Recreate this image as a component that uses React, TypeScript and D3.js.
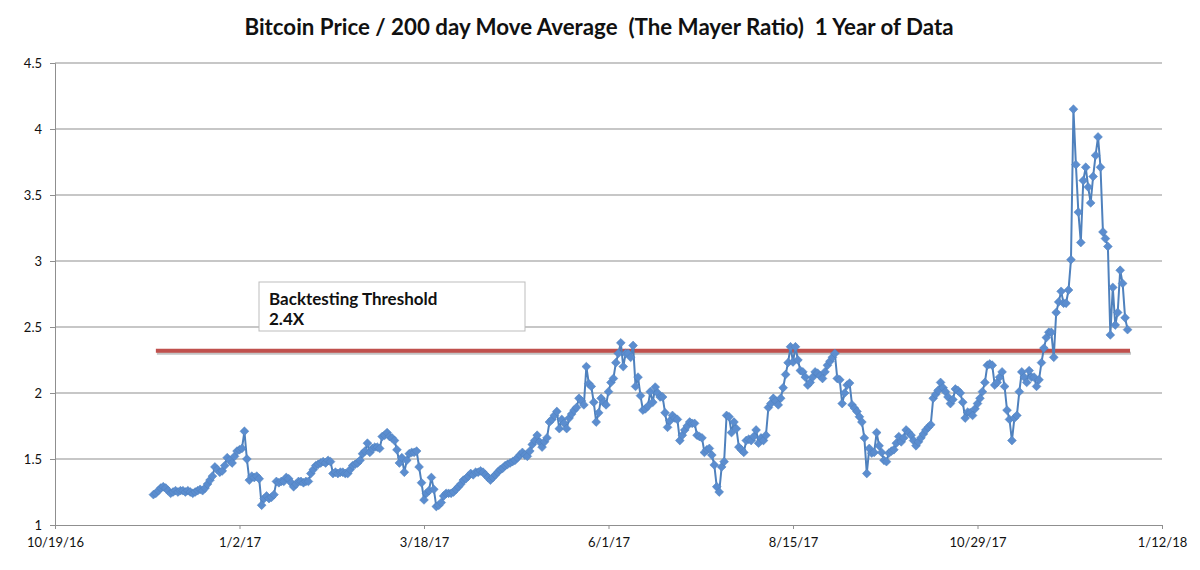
import * as d3 from "d3";
import React, { useEffect, useRef } from "react";

// Mayer ratio, one value per day starting 11/28/16
const startDate = "2016-11-28";
const ratioValues: number[] = [
  // Nov/Dec 2016
  1.23, 1.24, 1.26, 1.28, 1.29, 1.28, 1.26, 1.24, 1.25, 1.26,
  1.25, 1.26, 1.26, 1.25, 1.26, 1.25, 1.24, 1.25, 1.26, 1.27,
  1.26, 1.28, 1.31, 1.34, 1.37, 1.44, 1.42, 1.40, 1.41, 1.45,
  1.51, 1.49, 1.47, 1.52, 1.56, 1.57, 1.58, 1.71, 1.50, 1.34,
  // Jan/Feb 2017
  1.37, 1.36, 1.37, 1.35, 1.15, 1.20, 1.22, 1.20, 1.21, 1.23,
  1.33, 1.32, 1.33, 1.33, 1.36, 1.35, 1.32, 1.29, 1.31, 1.33,
  1.33, 1.32, 1.33, 1.33, 1.39, 1.42, 1.45, 1.46, 1.47, 1.48,
  1.47, 1.49, 1.48, 1.39, 1.40, 1.39, 1.40, 1.40, 1.39, 1.39,
  // Feb/Mar 2017
  1.42, 1.45, 1.46, 1.47, 1.49, 1.54, 1.56, 1.62, 1.55, 1.58,
  1.59, 1.59, 1.58, 1.67, 1.68, 1.70, 1.67, 1.66, 1.64, 1.57,
  1.47, 1.51, 1.40, 1.49, 1.54, 1.55, 1.55, 1.56, 1.44, 1.32,
  1.19, 1.24, 1.26, 1.36, 1.27, 1.14, 1.15, 1.17, 1.22, 1.24,
  // Apr/May 2017
  1.24, 1.24, 1.25, 1.27, 1.29, 1.31, 1.34, 1.35, 1.37, 1.39,
  1.38, 1.40, 1.40, 1.41, 1.40, 1.38, 1.36, 1.34, 1.36, 1.38,
  1.40, 1.42, 1.43, 1.45, 1.46, 1.47, 1.48, 1.49, 1.51, 1.53,
  1.55, 1.53, 1.52, 1.56, 1.61, 1.64, 1.68, 1.63, 1.59, 1.63,
  // May/Jun 2017
  1.66, 1.78, 1.80, 1.83, 1.86, 1.73, 1.80, 1.77, 1.73, 1.81,
  1.84, 1.87, 1.89, 1.96, 1.94, 1.91, 2.20, 2.07, 2.05, 1.93,
  1.78, 1.85, 1.96, 1.93, 1.91, 2.01, 2.08, 2.11, 2.23, 2.30,
  2.38, 2.20, 2.30, 2.30, 2.27, 2.36, 2.05, 2.12, 1.98, 1.87,
  // Jun/Jul 2017
  1.88, 1.90, 2.01, 1.93, 2.045, 2.00, 1.97, 1.97, 1.85, 1.74,
  1.79, 1.83, 1.81, 1.80, 1.64, 1.68, 1.72, 1.75, 1.78, 1.77,
  1.77, 1.68, 1.67, 1.66, 1.55, 1.57, 1.58, 1.53, 1.455, 1.29,
  1.25, 1.44, 1.48, 1.83, 1.82, 1.70, 1.78, 1.73, 1.59, 1.57,
  // Jul/Aug 2017
  1.55, 1.64, 1.65, 1.64, 1.67, 1.72, 1.62, 1.66, 1.64, 1.68,
  1.89, 1.92, 1.96, 1.94, 1.91, 1.96, 2.04, 2.14, 2.23, 2.35,
  2.235, 2.35, 2.25, 2.17, 2.16, 2.12, 2.06, 2.08, 2.12, 2.16,
  2.15, 2.13, 2.11, 2.16, 2.21, 2.24, 2.27, 2.30, 2.11, 2.10,
  // Sep/Oct 2017
  1.92, 2.00, 2.06, 2.075, 1.91, 1.885, 1.86, 1.82, 1.78, 1.66,
  1.39, 1.58, 1.545, 1.55, 1.70, 1.60, 1.55, 1.49, 1.48, 1.545,
  1.56, 1.57, 1.62, 1.67, 1.63, 1.66, 1.72, 1.70, 1.68, 1.64,
  1.60, 1.63, 1.66, 1.69, 1.72, 1.74, 1.76, 1.96, 1.99, 2.02,
  // Oct/Nov 2017
  2.08, 2.04, 2.01, 1.97, 1.92, 1.95, 2.03, 2.02, 2.00, 1.93,
  1.81, 1.855, 1.85, 1.83, 1.88, 1.92, 1.96, 2.01, 2.08, 2.21,
  2.22, 2.21, 2.06, 2.08, 2.12, 2.16, 2.05, 1.87, 1.80, 1.64,
  1.81, 1.83, 2.01, 2.16, 2.12, 2.08, 2.17, 2.12, 2.12, 2.05,
  // Nov/Dec 2017
  2.10, 2.23, 2.34, 2.42, 2.46, 2.46, 2.27, 2.61, 2.69, 2.77,
  2.68, 2.68, 2.78, 3.01, 4.15, 3.73, 3.37, 3.14, 3.61, 3.71,
  3.56, 3.44, 3.64, 3.80, 3.94, 3.71, 3.22, 3.17, 3.11, 2.44,
  2.80, 2.515, 2.61, 2.93, 2.83, 2.57, 2.48,
];

const xTickLabels = ["10/19/16", "1/2/17", "3/18/17", "6/1/17", "8/15/17", "10/29/17", "1/12/18"];
const yTickValues = [1, 1.5, 2, 2.5, 3, 3.5, 4, 4.5];

const thresholdValue = 2.32;
const thresholdStart = "2016-11-29";
const thresholdEnd = "2017-12-30";

const title = "Bitcoin Price / 200 day Move Average  (The Mayer Ratio)  1 Year of Data";
const noteLines = ["Backtesting Threshold", "2.4X"];

const width = 1200;
const height = 570;
const font = "Lato, 'Open Sans', sans-serif";

const App: React.FC = () => {
  const svgRef = useRef<SVGSVGElement>(null);

  useEffect(() => {
    document.body.style.margin = "0";
    if (!svgRef.current) return;

    const svg = d3.select(svgRef.current);
    svg.selectAll("*").remove();
    svg.attr("width", width).attr("height", height).style("background", "#fff");

    const parseTick = d3.timeParse("%m/%d/%y");
    const parseIso = d3.timeParse("%Y-%m-%d");
    const tickDates = xTickLabels.map((t) => parseTick(t) as Date);
    const start = parseIso(startDate) as Date;

    const points = ratioValues.map((v, i) => ({
      date: d3.timeDay.offset(start, i),
      value: v,
    }));

    const x = d3
      .scaleTime()
      .domain([tickDates[0], tickDates[tickDates.length - 1]])
      .range([55, 1162]);
    const y = d3.scaleLinear().domain([1, 4.5]).range([525, 63]);

    // title (keep the double spaces)
    svg
      .append("text")
      .attr("x", 599)
      .attr("y", 35)
      .attr("text-anchor", "middle")
      .style("white-space", "pre")
      .style("font-family", font)
      .style("font-size", "22.3px")
      .style("font-weight", "bold")
      .attr("fill", "#111")
      .text(title);

    // gridlines
    svg
      .append("g")
      .selectAll("line")
      .data(yTickValues.filter((v) => v > 1))
      .join("line")
      .attr("x1", x.range()[0])
      .attr("x2", x.range()[1])
      .attr("y1", (d) => y(d))
      .attr("y2", (d) => y(d))
      .attr("stroke", "#8f8f8f")
      .attr("stroke-width", 1);

    // y axis
    const yAxis = svg
      .append("g")
      .attr("transform", `translate(${x.range()[0]},0)`)
      .call(
        d3
          .axisLeft(y)
          .tickValues(yTickValues)
          .tickSize(5)
          .tickPadding(8)
          .tickFormat((d) => String(d)),
      );
    yAxis.select(".domain").attr("stroke", "#8f8f8f");
    yAxis.selectAll(".tick line").attr("stroke", "#8f8f8f");
    yAxis
      .selectAll(".tick text")
      .style("font-family", font)
      .style("font-size", "13px")
      .attr("fill", "#111");

    // x axis
    const xAxis = svg
      .append("g")
      .attr("transform", `translate(0,${y(1)})`)
      .call(
        d3
          .axisBottom(x)
          .tickValues(tickDates)
          .tickSize(4)
          .tickPadding(9)
          .tickFormat((d, i) => xTickLabels[i]),
      );
    xAxis.select(".domain").attr("stroke", "#8f8f8f");
    xAxis.selectAll(".tick line").attr("stroke", "#8f8f8f");
    xAxis
      .selectAll(".tick text")
      .style("font-family", font)
      .style("font-size", "13px")
      .attr("fill", "#111");

    // threshold line with soft shadow underneath
    const tx1 = x(parseIso(thresholdStart) as Date);
    const tx2 = x(parseIso(thresholdEnd) as Date);
    const ty = y(thresholdValue);
    svg
      .append("line")
      .attr("x1", tx1 + 1)
      .attr("x2", tx2 + 1)
      .attr("y1", ty + 2.5)
      .attr("y2", ty + 2.5)
      .attr("stroke", "#7a7a7a")
      .attr("stroke-opacity", 0.45)
      .attr("stroke-width", 3);
    svg
      .append("line")
      .attr("x1", tx1)
      .attr("x2", tx2)
      .attr("y1", ty)
      .attr("y2", ty)
      .attr("stroke", "#c0504d")
      .attr("stroke-width", 4);

    // series line
    const line = d3
      .line<{ date: Date; value: number }>()
      .x((d) => x(d.date))
      .y((d) => y(d.value));

    svg
      .append("path")
      .datum(points)
      .attr("d", line)
      .attr("fill", "none")
      .attr("stroke", "#4f81bd")
      .attr("stroke-width", 2);

    // diamond markers
    const diamond = d3.symbol((d3 as any).symbolDiamond2 ?? d3.symbolDiamond, 50);
    svg
      .append("g")
      .selectAll("path")
      .data(points)
      .join("path")
      .attr("d", diamond)
      .attr("transform", (d) => `translate(${x(d.date)},${y(d.value)})`)
      .attr("fill", "#5b8dcf")
      .attr("stroke", "#4f81bd")
      .attr("stroke-width", 0.5);

    // annotation box
    const note = svg.append("g").attr("transform", "translate(259,282)");
    note
      .append("rect")
      .attr("width", 266)
      .attr("height", 49)
      .attr("fill", "#fff")
      .attr("stroke", "#bdbdbd");
    note
      .selectAll("text")
      .data(noteLines)
      .join("text")
      .attr("x", 10)
      .attr("y", (d, i) => 23 + i * 20)
      .style("font-family", font)
      .style("font-size", "17px")
      .style("font-weight", "bold")
      .attr("fill", "#111")
      .text((d) => d);
  }, []);

  return <svg ref={svgRef} style={{ display: "block" }} />;
};

export default App;
